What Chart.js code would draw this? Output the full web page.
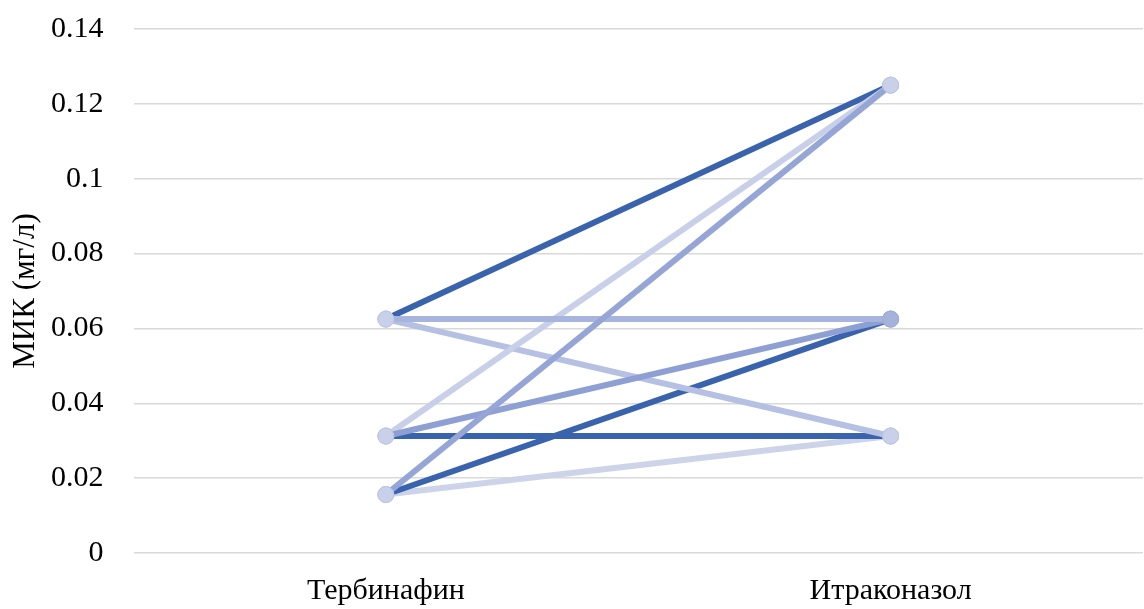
<!DOCTYPE html>
<html>
<head>
<meta charset="utf-8">
<script src="https://cdn.jsdelivr.net/npm/chart.js@4"></script>
<style>
  html, body { margin: 0; padding: 0; background: #fff; overflow: hidden; width: 1144px; height: 609px; }
  #wrap { position: absolute; left: 0; top: 0; width: 1152px; height: 609px; }
  #c { display: block; width: 1152px; height: 609px; }
</style>
</head>
<body>
<div id="wrap"><canvas id="c" width="1152" height="609"></canvas></div>
<script>
// Drug names on the category axis
const categories = ['Тербинафин', 'Итраконазол'];
// MIC (mg/l) per isolate: terbinafine vs itraconazole (listed top layer first)
const terbinafineMic  = [0.015625, 0.0625, 0.03125, 0.03125, 0.0625, 0.0625, 0.015625, 0.03125, 0.015625];
const itraconazoleMic = [0.125,    0.0625, 0.0625,  0.125,   0.125,  0.03125, 0.0625,  0.03125, 0.03125];
// Y axis ticks
const yTicks = [0, 0.02, 0.04, 0.06, 0.08, 0.1, 0.12, 0.14];

const lineColors = ['#95a5d6', '#a7b5de', '#8e9fd3', '#c8cfe8', '#3a63ad', '#b5c0e2', '#3a63ad', '#3a63ad', '#cdd4ea'];
const markerLight = '#c9d0e9';
const markerMid = '#a5b2db';

const datasets = terbinafineMic.map((t, i) => ({
  label: 'Изолят ' + (i + 1),
  data: [t, itraconazoleMic[i]],
  borderColor: lineColors[i],
  borderWidth: 6,
  pointRadius: 8,
  pointHoverRadius: 8,
  pointBorderWidth: 1,
  pointBorderColor: ctx => (ctx.dataIndex === 1 && ctx.raw === 0.0625) ? '#9dabd7' : '#bcc5e4',
  pointBackgroundColor: ctx => (ctx.dataIndex === 1 && ctx.raw === 0.0625) ? markerMid : markerLight,
  tension: 0,
  fill: false
}));

const serif = '"Liberation Serif", "Times New Roman", serif';

const chart = new Chart(document.getElementById('c'), {
  type: 'line',
  data: { labels: categories, datasets },
  options: {
    responsive: false,
    animation: false,
    layout: { padding: { top: 29, right: 0, bottom: 0, left: 0 } },
    plugins: { legend: { display: false }, tooltip: { enabled: false } },
    scales: {
      x: {
        offset: true,
        grid: { display: false, drawTicks: false },
        border: { display: false },
        ticks: { color: '#000', font: { family: serif, size: 30 }, padding: 20 },
        afterFit: s => { s.height = 56; s.paddingLeft = 0; s.paddingRight = 0; }
      },
      y: {
        min: 0, max: 0.14,
        afterBuildTicks: s => { s.ticks = yTicks.map(v => ({ value: v })); },
        grid: { color: '#d9d9d9', lineWidth: 1.5, drawTicks: true, tickLength: 30, tickColor: 'rgba(0,0,0,0)' },
        border: { display: false },
        ticks: { color: '#000', font: { family: serif, size: 30 }, padding: 0,
                 callback: v => String(+v.toFixed(2)) },
        title: { display: true, text: 'МИК (мг/л)', color: '#000',
                 font: { family: serif, size: 31 }, padding: { top: 7, bottom: 0 } },
        afterFit: s => { s.width = 133.5; }
      }
    }
  }
});
// the plot area runs slightly past the visible right edge
chart.resize(1152, 609);
</script>
</body>
</html>
